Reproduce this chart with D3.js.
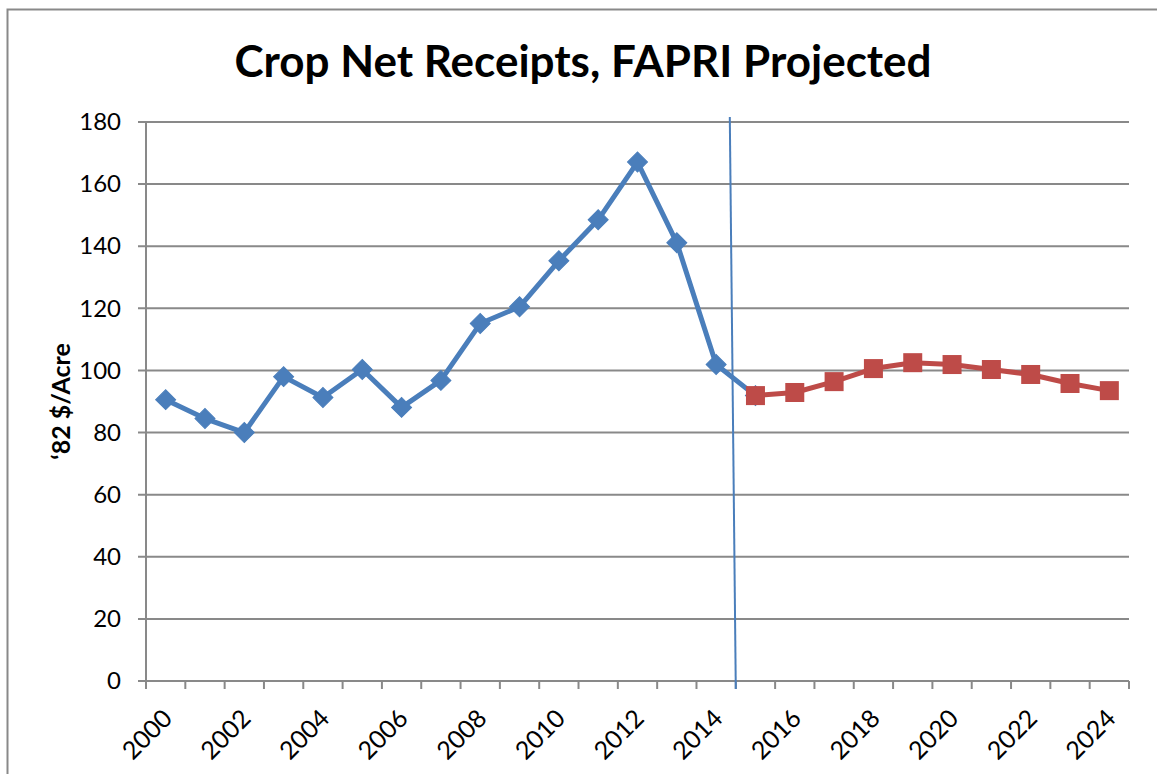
<!DOCTYPE html>
<html>
<head>
<meta charset="utf-8">
<script src="https://cdn.jsdelivr.net/npm/d3@7"></script>
<style>
  body { margin: 0; background: #fff; }
  svg { display: block; }
  svg text { font-family: Lato, "Open Sans", sans-serif; }
</style>
</head>
<body>
<div id="chart"></div>
<script>
// chart values
var years = d3.range(2000, 2025).map(String);
var tickYears = years.filter(function(d, i) { return i % 2 === 0; });
var histYears = years.slice(0, 16);
var histValues = [90.6, 84.5, 80.0, 98.0, 91.3, 100.3, 88.1, 96.8, 115.1, 120.5,
                  135.3, 148.5, 167.1, 141.1, 101.9, 91.9];
var projYears = years.slice(15);
var projValues = [91.9, 92.9, 96.4, 100.6, 102.5, 101.9, 100.3, 98.7, 95.8, 93.5];
var yTicks = [0, 20, 40, 60, 80, 100, 120, 140, 160, 180];

var margin = {
        top: 122,
        right: 28,
        bottom: 93,
        left: 146
    },
    width = 1157 - margin.left - margin.right,
    height = 774 - margin.top - margin.bottom;

var blue = "#4a7ebb",
    red = "#be4b48",
    grid = "#898989";

var svg = d3.select("#chart").append("svg")
    .attr("width", 1157)
    .attr("height", 774);

// outer frame
svg.append("rect")
    .attr("x", 7.5)
    .attr("y", 9.5)
    .attr("width", 1200)
    .attr("height", 800)
    .style("fill", "none")
    .style("stroke", grid)
    .style("stroke-width", 2);

var g = svg.append("g")
    .attr("transform", "translate(" + margin.left + "," + margin.top + ")");

var x = d3.scaleBand()
    .domain(years)
    .range([0, width]);
var y = d3.scaleLinear()
    .domain([0, 180])
    .range([height, 0]);

// gridlines
g.selectAll(".gridLine")
    .data(yTicks)
    .enter().append("line")
    .attr("class", "gridLine")
    .attr("x1", -8)
    .attr("x2", width)
    .attr("y1", function(d) { return y(d); })
    .attr("y2", function(d) { return y(d); })
    .style("stroke", grid)
    .style("stroke-width", 2);

// y axis
var yAxis = d3.axisLeft(y)
    .tickValues(yTicks)
    .tickSize(0)
    .tickPadding(25);
g.append("g")
    .attr("class", "y axis")
    .call(yAxis)
    .call(function(a) { a.select(".domain").remove(); })
    .selectAll("text")
    .attr("font-size", 24)
    .attr("fill", "#000");
g.append("line")
    .attr("x1", 0).attr("x2", 0)
    .attr("y1", 0).attr("y2", height)
    .style("stroke", grid)
    .style("stroke-width", 2);

// x axis: ticks at category boundaries
var bounds = years.map(function(d) { return x(d); }).concat([width]);
g.selectAll(".xTick")
    .data(bounds)
    .enter().append("line")
    .attr("class", "xTick")
    .attr("x1", function(d) { return d; })
    .attr("x2", function(d) { return d; })
    .attr("y1", height)
    .attr("y2", height + 8)
    .style("stroke", grid)
    .style("stroke-width", 2);

g.selectAll(".xLabel")
    .data(tickYears)
    .enter().append("text")
    .attr("class", "xLabel")
    .text(function(d) { return d; })
    .attr("text-anchor", "end")
    .attr("font-size", 25)
    .attr("transform", function(d) {
        var cx = x(d) + x.bandwidth() / 2 + 8;
        return "translate(" + cx + "," + (height + 39) + ") rotate(-45)";
    });

// divider between history and projection
var divX = x("2015");
g.append("line")
    .attr("x1", divX - 6)
    .attr("x2", divX)
    .attr("y1", y(180) - 5)
    .attr("y2", height + 8)
    .style("stroke", blue)
    .style("stroke-width", 2);

var line = d3.line()
    .x(function(d) { return x(d[0]) + x.bandwidth() / 2; })
    .y(function(d) { return y(d[1]); });

var histPts = d3.zip(histYears, histValues);
var projPts = d3.zip(projYears, projValues);

g.append("path")
    .datum(histPts)
    .attr("d", line)
    .style("fill", "none")
    .style("stroke", blue)
    .style("stroke-width", 5)
    .style("stroke-linejoin", "round");

g.selectAll(".diamond")
    .data(histPts)
    .enter().append("path")
    .attr("class", "diamond")
    .attr("d", d3.symbol().type(d3.symbolSquare).size(200))
    .attr("transform", function(d) {
        return "translate(" + (x(d[0]) + x.bandwidth() / 2) + "," + y(d[1]) + ") rotate(45)";
    })
    .style("fill", blue)
    .style("stroke", blue)
    .style("stroke-width", 1);

g.append("path")
    .datum(projPts)
    .attr("d", line)
    .style("fill", "none")
    .style("stroke", red)
    .style("stroke-width", 5)
    .style("stroke-linejoin", "round");

g.selectAll(".square")
    .data(projPts)
    .enter().append("rect")
    .attr("class", "square")
    .attr("x", function(d) { return x(d[0]) + x.bandwidth() / 2 - 9.5; })
    .attr("y", function(d) { return y(d[1]) - 9.5; })
    .attr("width", 19)
    .attr("height", 19)
    .style("fill", red);

// titles
svg.append("text")
    .attr("x", 583)
    .attr("y", 77)
    .attr("text-anchor", "middle")
    .attr("font-size", 44)
    .attr("font-weight", "bold")
    .text("Crop Net Receipts, FAPRI Projected");

svg.append("text")
    .attr("transform", "translate(70," + (margin.top + y(90)) + ") rotate(-90)")
    .attr("text-anchor", "middle")
    .attr("font-size", 25)
    .attr("font-weight", "bold")
    .text("\u201882 $/Acre");
</script>
</body>
</html>
